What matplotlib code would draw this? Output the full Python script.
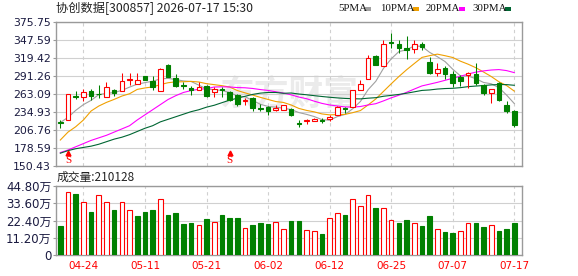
import numpy as np
import matplotlib
matplotlib.use("Agg")
import matplotlib.pyplot as plt
from matplotlib.patches import Rectangle
import matplotlib.transforms as mtransforms

plt.rcParams['font.family'] = ['DejaVu Sans', 'Noto Sans CJK SC']

# ---------------- data ----------------
stock_name = "协创数据"
stock_code = "300857"
timestamp = "2026-07-17 15:30"
last_volume_label = "210128"

dates = ["04-21", "04-22", "04-23", "04-24", "04-27", "04-28", "04-29", "04-30",
         "05-06", "05-07", "05-08", "05-11", "05-12", "05-13", "05-14", "05-15",
         "05-18", "05-19", "05-20", "05-21", "05-22", "05-25", "05-26", "05-27",
         "05-28", "05-29", "06-01", "06-02", "06-03", "06-04", "06-05", "06-08",
         "06-09", "06-10", "06-11", "06-12", "06-15", "06-16", "06-17", "06-18",
         "06-22", "06-23", "06-24", "06-25", "06-26", "06-29", "06-30", "07-01",
         "07-02", "07-03", "07-06", "07-07", "07-08", "07-09", "07-10", "07-13",
         "07-14", "07-15", "07-16", "07-17"]

open_ = [218.8, 221.9, 259.4, 257.3, 267.3, 263.1, 257.3, 269.3, 267.8, 283.9,
         278.7, 290.7, 282.4, 267.8, 307.9, 287.1, 276.6, 271.4, 269.3, 275.6,
         266.2, 270.4, 266.2, 261.5, 251.6, 256.3, 240.7, 241.7, 237.5, 237.5,
         238.6, 216.7, 220.8, 220.8, 222.4, 224.0, 230.2, 241.2, 241.7, 269.3,
         285.5, 322.5, 306.9, 343.4, 340.3, 334.5, 332.5, 340.8, 312.6, 295.9,
         302.7, 293.9, 289.7, 292.3, 293.9, 276.1, 263.6, 279.2, 244.8, 236.0]
high = [221.9, 263.0, 267.8, 270.9, 269.9, 276.1, 281.3, 270.4, 295.9, 294.9,
        295.9, 291.3, 290.7, 303.8, 310.0, 294.4, 281.3, 274.5, 281.3, 276.6,
        273.5, 274.0, 267.3, 262.6, 255.8, 257.3, 246.9, 243.8, 245.9, 245.9,
        240.1, 221.9, 223.0, 224.5, 225.5, 230.2, 243.8, 241.7, 268.8, 283.9,
        323.6, 324.1, 347.1, 357.5, 347.1, 353.3, 347.1, 343.4, 321.0, 311.6,
        306.4, 299.1, 292.3, 297.5, 310.6, 278.2, 270.4, 281.3, 251.6, 237.5]
low = [208.8, 221.5, 255.2, 251.1, 253.2, 256.3, 257.3, 259.9, 267.8, 277.2,
       278.7, 284.5, 269.3, 267.8, 288.6, 273.0, 269.9, 261.0, 269.3, 258.4,
       257.3, 257.8, 251.6, 243.8, 245.4, 236.5, 236.5, 229.2, 236.5, 237.5,
       228.1, 210.4, 215.1, 220.3, 216.7, 220.3, 229.7, 233.3, 241.7, 269.3,
       285.5, 307.4, 306.9, 334.5, 326.2, 316.8, 327.2, 331.4, 293.9, 290.7,
       286.0, 274.0, 275.1, 271.4, 276.6, 261.0, 248.0, 251.6, 233.3, 211.4]
close = [217.2, 262.6, 257.9, 265.7, 260.0, 262.0, 273.0, 263.6, 282.9, 285.5,
         285.2, 285.0, 274.0, 301.7, 289.7, 275.6, 274.5, 269.3, 273.5, 259.4,
         269.9, 268.8, 253.2, 246.9, 253.2, 240.7, 238.6, 236.5, 241.2, 244.9,
         230.2, 215.1, 222.4, 224.0, 220.8, 226.1, 242.8, 239.6, 268.3, 277.7,
         318.4, 308.5, 341.0, 342.0, 335.1, 331.9, 340.3, 335.6, 295.9, 301.2,
         293.9, 280.3, 283.4, 294.9, 280.3, 264.6, 269.9, 253.2, 236.5, 214.0]
volume = [187000, 411000, 394000, 347000, 278000, 392000, 347000, 291000, 347000, 289000,
          252000, 282000, 295000, 366000, 258000, 271000, 200000, 207000, 192000, 233000,
          213000, 261000, 239000, 239000, 174000, 194000, 207000, 200000, 213000, 168000,
          220000, 220000, 162000, 155000, 136000, 243000, 271000, 261000, 362000, 317000,
          388000, 304000, 308000, 230000, 209000, 226000, 207000, 187000, 252000, 172000,
          149000, 142000, 153000, 211000, 207000, 181000, 192000, 155000, 168000, 210128]

# moving-average values visible before enough closes exist in this window
ma5_head = [218.0, 226.0, 237.0, 246.0]
ma10_head = [190.6, 203.0, 211.4, 221.9, 236.0, 243.8, 249.5, 254.2, 259.4]
ma20_head = [171.0, 175.0, 180.0, 185.0, 190.0, 194.0, 198.0, 203.0, 208.0, 213.0,
             222.0, 230.0, 238.0, 246.0, 254.0, 260.0, 265.0, 268.0, 270.0]
ma30_head = [170.0, 174.0, 177.0, 179.0, 181.0, 184.0, 188.0, 192.0, 195.0, 199.0,
             204.0, 209.0, 213.0, 219.0, 223.0, 227.0, 231.0, 235.0, 238.0, 242.0,
             245.0, 249.0, 253.0, 256.0, 259.0, 262.0, 264.0, 265.0, 265.0]

ma_names = ["5PMA", "10PMA", "20PMA", "30PMA"]
ma_windows = [5, 10, 20, 30]
ma_heads = [ma5_head, ma10_head, ma20_head, ma30_head]
ma_colors = ["#a0a0a0", "#f0a000", "#ff00ff", "#006633"]

tick_dates = ["04-24", "05-11", "05-21", "06-02", "06-12", "06-25", "07-07", "07-17"]
signal_dates = ["04-22", "05-26"]
price_ticks = [150.43, 178.59, 206.76, 234.93, 263.09, 291.26, 319.42, 347.59, 375.75]
vol_ticks = [0, 11.20, 22.40, 33.60, 44.80]  # in 万

# ---------------- helpers ----------------
def moving_avg(c, n, head):
    c = np.asarray(c, float)
    out = np.empty(len(c))
    out[:len(head)] = head
    for i in range(len(head), len(c)):
        out[i] = c[i - n + 1:i + 1].mean()
    return out

RED = "#ff0000"
GREEN = "#008000"
GRID = "#d0d0d0"
FRAME = "#9a9a9a"
LABEL = "#1a1a40"

W, H = 578, 276
fig = plt.figure(figsize=(W / 100, H / 100), dpi=100)

def px_axes(l, t, r, b):
    return fig.add_axes([l / W, 1 - b / H, (r - l) / W, (b - t) / H])

ax = px_axes(56, 21.7, 522, 165.7)
axv = px_axes(56, 186, 522, 255)

o = np.array(open_); h = np.array(high); l = np.array(low); c = np.array(close)
v = np.array(volume) / 1e4
n = len(c)
x = np.arange(n)
up = c >= o
prev = np.r_[o[0], c[:-1]]
vol_up = c >= prev
tick_idx = [dates.index(d) for d in tick_dates]
bw = 0.6

for a in (ax, axv):
    a.set_xlim(-0.56, n)
    for s in a.spines.values():
        s.set_color(FRAME)
        s.set_linewidth(1.0)
    a.set_xticks(tick_idx)
    a.grid(axis='x', color=GRID, linestyle=(0, (3, 3)), linewidth=0.8)
    a.grid(axis='y', color=GRID, linestyle='-', linewidth=0.8)
    a.set_axisbelow(True)
    a.tick_params(axis='y', length=2.5, width=0.8, color=FRAME, pad=1,
                  labelsize=7.8, labelcolor=LABEL)
    a.tick_params(axis='x', length=0)

# watermark
ax.text(0.50, 0.50, "东方财富", transform=ax.transAxes, ha='center', va='center',
        fontsize=25, fontweight='bold', color='#ebebeb', zorder=0.5,
        family=['Noto Sans CJK SC'])

# MA lines
for name, win, head, col in zip(ma_names, ma_windows, ma_heads, ma_colors):
    ax.plot(x, moving_avg(c, win, head), color=col, linewidth=0.8, zorder=2)

# candles
for i in range(n):
    col = RED if up[i] else GREEN
    ax.vlines(x[i], l[i], h[i], color=col, linewidth=0.75, zorder=3)
    bot = min(o[i], c[i])
    ht = max(abs(c[i] - o[i]), 0.5)
    ax.add_patch(Rectangle((x[i] - bw / 2, bot), bw, ht,
                           facecolor='white' if up[i] else GREEN,
                           edgecolor=col, linewidth=0.8, zorder=4))

ax.set_ylim(price_ticks[0], price_ticks[-1])
ax.set_yticks(price_ticks)
ax.set_yticklabels([f"{t:.2f}" for t in price_ticks])
ax.set_xticklabels([])

# S signals
trans = mtransforms.blended_transform_factory(ax.transData, ax.transAxes)
for d in signal_dates:
    xi = dates.index(d)
    ax.plot([xi], [0.088], marker='^', color=RED, markersize=3.5, transform=trans,
            zorder=5, clip_on=False)
    ax.text(xi, 0.035, "S", transform=trans, ha='center', va='center', color=RED,
            fontsize=8, family=['Liberation Serif'], zorder=5)

# volume
for i in range(n):
    col = RED if vol_up[i] else GREEN
    axv.add_patch(Rectangle((x[i] - bw / 2, 0), bw, v[i],
                            facecolor='white' if vol_up[i] else GREEN,
                            edgecolor=col, linewidth=0.8, zorder=3))
axv.set_ylim(vol_ticks[0], vol_ticks[-1])
axv.set_yticks(vol_ticks)
axv.set_yticklabels(["0" if t == 0 else f"{t:.2f}万" for t in vol_ticks])
axv.tick_params(axis='y', labelsize=8.5)
axv.set_xticklabels(tick_dates)
axv.tick_params(axis='x', labelsize=7.5, labelcolor=RED, pad=4)

# header texts
fig.text(56 / W, 1 - 8.5 / H, f"{stock_name}[{stock_code}] {timestamp}", ha='left',
         va='center', fontsize=8.8, color='#222222',
         family=['Noto Sans CJK SC', 'DejaVu Sans'])
fig.text(57 / W, 1 - 177.5 / H, f"成交量:{last_volume_label}", ha='left', va='center',
         fontsize=8.5, color='#222222', family=['Noto Sans CJK SC', 'DejaVu Sans'])

leg_x = [338, 380, 426, 472]
sq_x = [365, 413, 459, 505]
for name, col, tx, sx in zip(ma_names, ma_colors, leg_x, sq_x):
    fig.text(tx / W, 1 - 8.7 / H, name, ha='left', va='center', fontsize=7.8,
             color='#111111', family=['Liberation Serif'])
    fig.add_artist(Rectangle((sx / W, 1 - 10.5 / H), 6 / W, 3.5 / H,
                             transform=fig.transFigure, facecolor=col, edgecolor='none'))

fig.savefig("out.png", dpi=100)
